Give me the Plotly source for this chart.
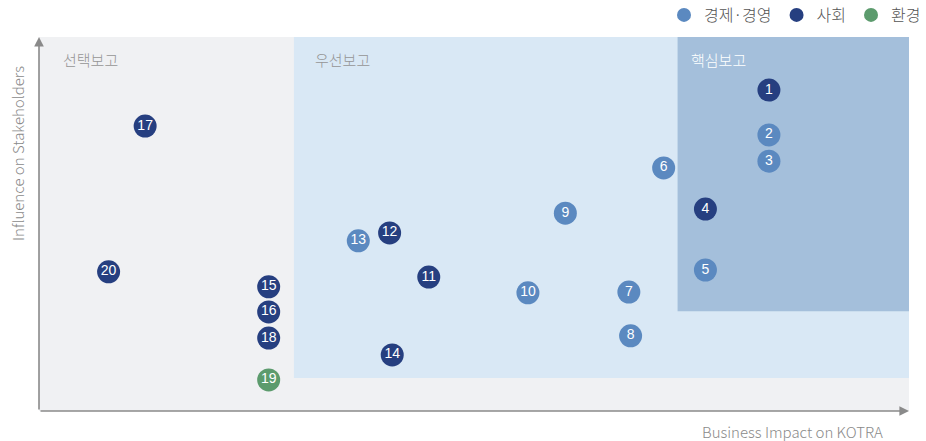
import plotly.graph_objects as go

# Data (x: Business Impact on KOTRA, y: Influence on Stakeholders), 0-10 scale
ids = ["1", "2", "3", "4", "5", "6", "7", "8", "9", "10",
       "11", "12", "13", "14", "15", "16", "17", "18", "19", "20"]
impact = [8.39, 8.39, 8.39, 7.66, 7.66, 7.18, 6.78, 6.80, 6.05, 5.62,
          4.48, 4.03, 3.67, 4.06, 2.64, 2.64, 1.22, 2.64, 2.64, 0.80]
influence = [8.58, 7.38, 6.68, 5.40, 3.77, 6.50, 3.18, 2.01, 5.29, 3.16,
             3.58, 4.76, 4.55, 1.50, 3.32, 2.65, 7.62, 1.95, 0.83, 3.72]
category = ["사회", "경제·경영", "경제·경영", "사회", "경제·경영", "경제·경영", "경제·경영", "경제·경영", "경제·경영", "경제·경영",
            "사회", "사회", "경제·경영", "사회", "사회", "사회", "사회", "사회", "환경", "사회"]

categories = ["경제·경영", "사회", "환경"]
cat_colors = {"경제·경영": "#5b89c0", "사회": "#263f80", "환경": "#5c9b6d"}

zone_labels = ["선택보고", "우선보고", "핵심보고"]

W, H = 926, 441
L, R, T, B = 39, 17, 37, 30
PW, PH = W - L - R, H - T - B

fig = go.Figure()

# zones
fig.add_shape(type="rect", xref="x", yref="y", x0=2.93, x1=10, y0=0.88, y1=10,
              fillcolor="#d9e8f5", line_width=0, layer="below")
fig.add_shape(type="rect", xref="x", yref="y", x0=7.34, x1=10, y0=2.67, y1=10,
              fillcolor="#a4bfdb", line_width=0, layer="below")

for cat in categories:
    xs = [x for x, c in zip(impact, category) if c == cat]
    ys = [y for y, c in zip(influence, category) if c == cat]
    ts = [t for t, c in zip(ids, category) if c == cat]
    fig.add_trace(go.Scatter(
        x=xs, y=ys, text=ts, mode="markers+text", showlegend=False,
        marker=dict(size=23, color=cat_colors[cat], line_width=0),
        textposition="middle center",
        textfont=dict(family="Liberation Sans, Arial", size=14, color="white"),
        hoverinfo="skip", cliponaxis=False))
    fig.add_trace(go.Scatter(
        x=[None], y=[None], mode="markers", name=cat, showlegend=True,
        marker=dict(size=14, color=cat_colors[cat])))

# zone labels
label_pos = [(0.25, "#959595"), (3.15, "#959595"), (7.47, "white")]
for lab, (lx, col) in zip(zone_labels, label_pos):
    fig.add_annotation(x=lx, y=9.4, xref="x", yref="y", text=lab, showarrow=False,
                       xanchor="left", yanchor="middle",
                       font=dict(family="Noto Sans CJK KR", size=15, color=col, weight=300))

# axis arrows
fig.add_annotation(x=0, y=10, ax=0, ay=0, xref="x", yref="y", axref="x", ayref="y",
                   text="", showarrow=True, arrowhead=2, arrowsize=1.2, arrowwidth=1.6,
                   arrowcolor="#8a8a8a")
fig.add_annotation(x=10, y=0, ax=0, ay=0, xref="x", yref="y", axref="x", ayref="y",
                   text="", showarrow=True, arrowhead=2, arrowsize=1.2, arrowwidth=1.6,
                   arrowcolor="#8a8a8a")

# axis titles
fig.add_annotation(x=(885 - L) / PW, y=-(431 - (H - B)) / PH, xref="paper", yref="paper",
                   text="Business Impact on KOTRA", showarrow=False,
                   xanchor="right", yanchor="middle",
                   font=dict(family="Noto Sans CJK KR", size=15, color="#8a8a8a", weight=300))
fig.add_annotation(x=(17 - L) / PW, y=((H - B) - 154) / PH, xref="paper", yref="paper",
                   text="Influence on Stakeholders", showarrow=False, textangle=-90,
                   xanchor="center", yanchor="middle",
                   font=dict(family="Noto Sans CJK KR", size=15, color="#8a8a8a", weight=300))

fig.update_xaxes(range=[0, 10], visible=False, showgrid=False, zeroline=False, fixedrange=True)
fig.update_yaxes(range=[0, 10], visible=False, showgrid=False, zeroline=False, fixedrange=True)

fig.update_layout(
    width=W, height=H,
    margin=dict(l=L, r=R, t=T, b=B, autoexpand=False),
    plot_bgcolor="#f0f1f3", paper_bgcolor="white",
    showlegend=True,
    legend=dict(orientation="h", xref="container", x=1.0, xanchor="right",
                yref="container", y=1 - 15 / H, yanchor="middle",
                font=dict(family="Noto Sans CJK KR", size=16, color="#555555", weight=300),
                itemwidth=30, traceorder="normal", bgcolor="rgba(0,0,0,0)"),
)

fig.write_html("out.html", config={"displayModeBar": False},
               post_script="document.body.style.margin='0';")
